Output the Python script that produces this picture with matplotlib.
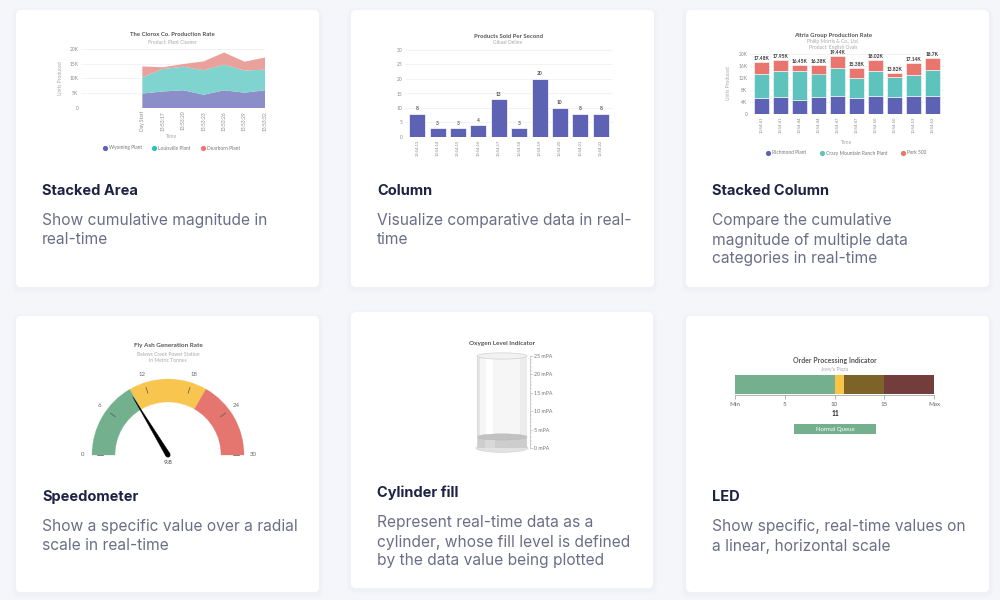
import matplotlib
matplotlib.use("Agg")
import matplotlib.pyplot as plt
from matplotlib.patches import FancyBboxPatch, Wedge, Polygon, Circle, Ellipse, Rectangle
import numpy as np

W, H = 1000, 600

## Data
# stacked area
area_times = ["Day Start", "13:53:17", "13:53:20", "13:53:23", "13:53:26", "13:53:29", "13:53:32"]
area_wyoming = [4900, 5600, 6000, 4500, 6000, 5200, 6000]
area_louisville = [5500, 7600, 8000, 8300, 8700, 7500, 7000]
area_dearborn = [3700, 600, 900, 3000, 4100, 3000, 4100]
area_names = ["Wyoming Plant", "Louisville Plant", "Dearborn Plant"]

# column
col_times = ["13:54:13", "13:54:14", "13:54:15", "13:54:16", "13:54:17",
             "13:54:18", "13:54:19", "13:54:20", "13:54:21", "13:54:22"]
col_sold = [8, 3, 3, 4, 13, 3, 20, 10, 8, 8]

# stacked column
stack_times = ["13:54:41", "13:54:41", "13:54:44", "13:54:44", "13:54:47",
               "13:54:47", "13:54:50", "13:54:50", "13:54:53", "13:54:53"]
stack_richmond = [5250, 5700, 4800, 5600, 6100, 5400, 6000, 5700, 6000, 6100]
stack_crazy = [8150, 8800, 9600, 7900, 9200, 6700, 8200, 6800, 7000, 8600]
stack_park = [4080, 3450, 2050, 2880, 4140, 3280, 3820, 1320, 4140, 4000]
stack_names = ["Richmond Plant", "Crazy Mountain Ranch Plant", "Park 500"]

# speedometer
gauge_ranges = [(0, 10), (10, 20), (20, 30)]
gauge_ticks = [0, 6, 12, 18, 24, 30]
gauge_value = 9.8

# cylinder
cyl_value = 3
cyl_ticks = [0, 5, 10, 15, 20, 25]

# LED
led_ranges = [(0, 10), (10, 11), (11, 15), (15, 20)]
led_ticks = [0, 5, 10, 15, 20]
led_tick_labels = ["Min", "5", "10", "15", "Max"]
led_value = 11

# cards
cards = [
    (16, 10, 319, 287, "Stacked Area", ["Show cumulative magnitude in", "real-time"], 191),
    (351, 10, 654, 287, "Column", ["Visualize comparative data in real-", "time"], 191),
    (686, 10, 989, 287, "Stacked Column", ["Compare the cumulative", "magnitude of multiple data", "categories in real-time"], 191),
    (16, 316, 319, 592, "Speedometer", ["Show a specific value over a radial", "scale in real-time"], 497),
    (351, 312, 653, 588, "Cylinder fill", ["Represent real-time data as a", "cylinder, whose fill level is defined", "by the data value being plotted"], 493),
    (686, 316, 989, 592, "LED", ["Show specific, real-time values on", "a linear, horizontal scale"], 497),
]

PURPLE = "#5d62b5"
TEAL = "#5ec3bd"
RED = "#e8766f"
CARD_FONT = "Inter"
CHART_FONT = "Lato"
TITLE_C = "#555555"
SUB_C = "#a8a8a8"
TICK_C = "#8a8a8a"

plt.rcParams["font.family"] = [CHART_FONT, "DejaVu Sans"]

fig = plt.figure(figsize=(10, 6), dpi=100)
fig.patch.set_facecolor("#f5f6fa")

bg = fig.add_axes([0, 0, 1, 1])
bg.set_xlim(0, W)
bg.set_ylim(H, 0)
bg.axis("off")


def px_axes(x0, y0, x1, y1):
    return fig.add_axes([x0 / W, 1 - y1 / H, (x1 - x0) / W, (y1 - y0) / H])


## Cards
for x0, y0, x1, y1, title, desc, ty in cards:
    for grow, a in [(4, 0.25), (2, 0.4)]:
        bg.add_patch(FancyBboxPatch((x0 - grow, y0 - grow + 2), x1 - x0 + 2 * grow, y1 - y0 + 2 * grow,
                                    boxstyle="round,pad=0,rounding_size=8", fc="#eceef4", ec="none", alpha=a))
    bg.add_patch(FancyBboxPatch((x0, y0), x1 - x0, y1 - y0, boxstyle="round,pad=0,rounding_size=5",
                                fc="white", ec="none"))
    bg.text(x0 + 26, ty, title, fontsize=10.5, fontweight="bold", color="#1e2243",
            family=CARD_FONT, va="center", ha="left")
    for i, line in enumerate(desc):
        bg.text(x0 + 26, ty + 30 + 19 * i, line, fontsize=11.2, color="#6b6e86",
                family=CARD_FONT, va="center", ha="left")


def style_axes(ax):
    for s in ax.spines.values():
        s.set_visible(False)
    ax.yaxis.grid(True, color="#eeeeee", lw=0.5)
    ax.set_axisbelow(True)
    ax.tick_params(length=0, labelsize=3.5, colors=TICK_C, pad=2)
    ax.set_facecolor("none")


def legend_row(items, y):
    for x, color, label in items:
        bg.scatter([x], [y], s=14, color=color, lw=0)
        bg.text(x + 4, y, label, fontsize=3.5, color="#777777", va="center", ha="left")


## Stacked area
bg.text(172, 35, "The Clorox Co. Production Rate", fontsize=4.3, fontweight="bold", color=TITLE_C, ha="center", va="center")
bg.text(172, 42, "Product: Plant Cleaner", fontsize=3.5, color=SUB_C, ha="center", va="center")
ax = px_axes(81, 49, 265, 108)
ax.stackplot(range(len(area_times)), area_wyoming, area_louisville, area_dearborn,
             colors=["#8b8ec9", "#80d4cf", "#eaa19c"], lw=0)
ax.set_xlim(-3, 6)
ax.set_ylim(0, 20000)
ax.set_yticks([0, 5000, 10000, 15000, 20000])
ax.set_yticklabels(["0", "5K", "10K", "15K", "20K"])
ax.set_xticks(range(len(area_times)))
ax.set_xticklabels(area_times, rotation=90)
style_axes(ax)
bg.text(60, 78, "Units Produced", fontsize=3.5, color=SUB_C, rotation=90, ha="center", va="center")
bg.text(172, 137, "Time", fontsize=3.8, color=SUB_C, ha="center", va="center")
legend_row([(105, PURPLE, area_names[0]), (154, "#29c3be", area_names[1]), (203, "#f2726f", area_names[2])], 148)

## Column
bg.text(508, 36, "Products Sold Per Second", fontsize=4.3, fontweight="bold", color=TITLE_C, ha="center", va="center")
bg.text(508, 43, "Gibaal Online", fontsize=3.5, color=SUB_C, ha="center", va="center")
ax = px_axes(405, 50, 613, 137)
xs = np.arange(len(col_sold))
ax.bar(xs, col_sold, width=0.78, color=PURPLE, edgecolor="white", lw=0.5)
for x, v in zip(xs, col_sold):
    ax.text(x, v + 0.9, str(v), fontsize=3.5, fontweight="bold", color="#555555", ha="center", va="bottom")
ax.set_xlim(-0.6, 9.6)
ax.set_ylim(0, 30)
ax.set_yticks(range(0, 31, 5))
ax.set_xticks(xs)
ax.set_xticklabels(col_times, rotation=90)
style_axes(ax)
ax.tick_params(axis="x", labelsize=3)

## Stacked column
bg.text(833, 35, "Altria Group Production Rate", fontsize=4.3, fontweight="bold", color=TITLE_C, ha="center", va="center")
bg.text(833, 42, "Philip Morris & Co., Ltd.", fontsize=3.5, color=SUB_C, ha="center", va="center")
bg.text(833, 48, "Product: English Ovals", fontsize=3.5, color=SUB_C, ha="center", va="center")
ax = px_axes(750, 54, 944, 114)
xs = np.arange(len(stack_times))
r = np.array(stack_richmond)
c = np.array(stack_crazy)
p = np.array(stack_park)
ax.bar(xs, r, width=0.78, color=PURPLE, edgecolor="white", lw=0.4)
ax.bar(xs, c, bottom=r, width=0.78, color=TEAL, edgecolor="white", lw=0.4)
ax.bar(xs, p, bottom=r + c, width=0.78, color=RED, edgecolor="white", lw=0.4)
for x, t in zip(xs, r + c + p):
    lab = f"{t / 1000:.2f}".rstrip("0").rstrip(".") + "K"
    ax.text(x, t + 300, lab, fontsize=3.5, fontweight="bold", color="#333333", ha="center", va="bottom")
ax.set_xlim(-0.6, 9.6)
ax.set_ylim(0, 20000)
ax.set_yticks(range(0, 20001, 4000))
ax.set_yticklabels(["0", "4K", "8K", "12K", "16K", "20K"])
ax.set_xticks(xs)
ax.set_xticklabels(stack_times, rotation=90)
style_axes(ax)
ax.tick_params(axis="x", labelsize=3)
bg.text(728, 83, "Units Produced", fontsize=3.5, color=SUB_C, rotation=90, ha="center", va="center")
bg.text(847, 143, "Time", fontsize=3.8, color=SUB_C, ha="center", va="center")
legend_row([(768, PURPLE, stack_names[0]), (822, TEAL, stack_names[1]), (903, RED, stack_names[2])], 153)

## Speedometer
bg.text(168, 345, "Fly Ash Generation Rate", fontsize=4.6, fontweight="bold", color=TITLE_C, ha="center", va="center")
bg.text(168, 354, "Belews Creek Power Station", fontsize=3.6, color=SUB_C, ha="center", va="center")
bg.text(168, 361, "in Metric Tonnes", fontsize=3.6, color=SUB_C, ha="center", va="center")
ax = px_axes(60, 330, 280, 470)
ax.set_xlim(-108, 112)
ax.set_ylim(-15, 125)
ax.axis("off")
g_min, g_max = gauge_ticks[0], gauge_ticks[-1]


def g_angle(v):
    return 180 - (v - g_min) / (g_max - g_min) * 180


R_OUT, R_W = 76, 23
for (lo, hi), col in zip(gauge_ranges, ["#72b08e", "#f8c64f", "#e4756f"]):
    ax.add_patch(Wedge((0, 0), R_OUT, g_angle(hi), g_angle(lo), width=R_W, fc=col, ec=col, lw=0.2))
for t in gauge_ticks:
    a = np.radians(g_angle(t))
    ax.plot([65 * np.cos(a), 71 * np.cos(a)], [65 * np.sin(a), 71 * np.sin(a)], color="#555555", lw=0.5)
    ax.text(85 * np.cos(a), 85 * np.sin(a), str(t), fontsize=4.3, color="#666666", ha="center", va="center")
a = np.radians(g_angle(gauge_value))
perp = a + np.pi / 2
needle = [(68 * np.cos(a), 68 * np.sin(a)),
          (2.4 * np.cos(perp), 2.4 * np.sin(perp)),
          (-2.4 * np.cos(perp), -2.4 * np.sin(perp))]
ax.add_patch(Polygon(needle, closed=True, fc="black", ec="black", lw=0.3))
ax.add_patch(Circle((0, 0), 2.4, fc="black"))
ax.text(0, -7, f"{gauge_value}", fontsize=4.6, color="#333333", ha="center", va="center")

## Cylinder
bg.text(502, 343, "Oxygen Level Indicator", fontsize=4.6, fontweight="bold", color=TITLE_C, ha="center", va="center")
ax = px_axes(477, 356, 527, 448)
ax.set_xlim(0, 1)
ax.set_ylim(cyl_ticks[0], cyl_ticks[-1])
eh = 1.7
ax.add_patch(Rectangle((0, 0), 1, cyl_ticks[-1], fc="#f6f6f6", ec="none"))
ax.add_patch(Rectangle((0.18, 0), 0.14, cyl_ticks[-1], fc="white", ec="none"))
ax.add_patch(Rectangle((0.85, 0), 0.15, cyl_ticks[-1], fc="#ececec", ec="none"))
ax.add_patch(Rectangle((0, 0), 0.05, cyl_ticks[-1], fc="#e4e4e4", ec="none"))
ax.add_patch(Ellipse((0.5, 0), 1.04, eh * 1.4, fc="#e2e2e2", ec="#d0d0d0", lw=0.4, clip_on=False))
ax.add_patch(Rectangle((0, 0), 1, cyl_value, fc="#cdcdcd", ec="none"))
ax.add_patch(Rectangle((0.15, 0), 0.2, cyl_value, fc="#d8d8d8", ec="none"))
ax.add_patch(Ellipse((0.5, cyl_value), 1, eh, fc="#c2c2c2", ec="#b8b8b8", lw=0.3, clip_on=False))
ax.plot([0, 0], [0, cyl_ticks[-1]], color="#dadada", lw=0.6)
ax.plot([1, 1], [0, cyl_ticks[-1]], color="#dadada", lw=0.6)
ax.add_patch(Ellipse((0.5, cyl_ticks[-1]), 1, eh, fc="#f2f2f2", ec="#d6d6d6", lw=0.6, clip_on=False))
for s in ["top", "bottom", "left"]:
    ax.spines[s].set_visible(False)
ax.spines["right"].set_color("#aaaaaa")
ax.spines["right"].set_linewidth(0.4)
ax.spines["right"].set_position(("outward", 2))
ax.set_xticks([])
ax.yaxis.tick_right()
ax.set_yticks(cyl_ticks)
ax.set_yticklabels([f"{t} mPA" for t in cyl_ticks])
ax.set_yticks(range(cyl_ticks[0], cyl_ticks[-1] + 1), minor=True)
ax.tick_params(axis="y", which="major", length=2, width=0.4, colors="#aaaaaa", labelcolor="#777777",
               labelsize=3.8, pad=1)
ax.tick_params(axis="y", which="minor", length=1.2, width=0.3, colors="#bbbbbb")
ax.set_facecolor("none")

## LED
bg.text(835, 360, "Order Processing Indicator", fontsize=5, fontweight="bold", color=TITLE_C, ha="center", va="center")
bg.text(835, 370, "Joey's Pizza", fontsize=3.8, color=SUB_C, ha="center", va="center")
ax = px_axes(735, 375, 934, 394)
for (lo, hi), col in zip(led_ranges, ["#74b08e", "#f8c548", "#7e6329", "#733d3b"]):
    ax.barh(0.5, hi - lo, left=lo, height=1, color=col, lw=0)
ax.set_xlim(led_ticks[0], led_ticks[-1])
ax.set_ylim(0, 1)
for s in ["top", "left", "right"]:
    ax.spines[s].set_visible(False)
ax.spines["bottom"].set_color("#999999")
ax.spines["bottom"].set_linewidth(0.5)
ax.spines["bottom"].set_position(("outward", 1))
ax.set_yticks([])
ax.set_xticks(led_ticks)
ax.set_xticklabels(led_tick_labels)
ax.tick_params(axis="x", length=3, width=0.5, colors="#999999", labelcolor="#666666", labelsize=4.5, pad=1.5)
bg.text(835, 413, str(led_value), fontsize=4.8, fontweight="bold", color="#222222", ha="center", va="center")
bg.add_patch(Rectangle((794, 424), 82, 10, fc="#74b08e", ec="none"))
bg.text(835, 429, "Normal Queue", fontsize=4.3, color="white", ha="center", va="center")

plt.savefig("out.png", dpi=100, facecolor=fig.get_facecolor())
